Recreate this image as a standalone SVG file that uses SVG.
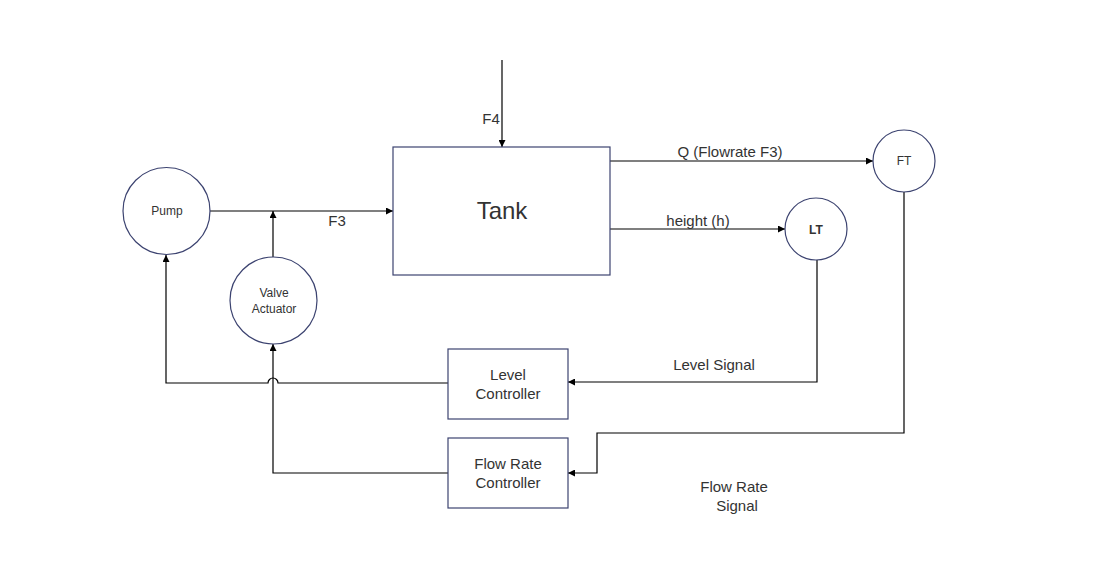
<svg xmlns="http://www.w3.org/2000/svg" width="1111" height="588" viewBox="0 0 1111 588">
<defs>
<marker id="arr" viewBox="0 0 8 8" refX="8" refY="4" markerWidth="7" markerHeight="7" orient="auto" markerUnits="userSpaceOnUse">
<path d="M0,0 L8,4 L0,8 Z" fill="#000"/>
</marker>
<style>
.node{fill:#fff;stroke:#3c4370;stroke-width:1.2}
.line{fill:none;stroke:#000;stroke-width:1.2}
text{font-family:"Liberation Sans",Arial,sans-serif;fill:#333;text-anchor:middle}
.s12{font-size:12px}
.s15{font-size:15px}
</style>
</defs>
<rect width="1111" height="588" fill="#fff"/>
<g id="connectors">
<path class="line" d="M210,211 H393" marker-end="url(#arr)"/>
<path class="line" d="M502,60 V147" marker-end="url(#arr)"/>
<path class="line" d="M273,257 V211" marker-end="url(#arr)"/>
<path class="line" d="M448,383 H278 A5,5 0 0 0 268,383 H166 V255" marker-end="url(#arr)"/>
<path class="line" d="M448,473 H273 V344" marker-end="url(#arr)"/>
<path class="line" d="M610,161 H873" marker-end="url(#arr)"/>
<path class="line" d="M610,229 H785" marker-end="url(#arr)"/>
<path class="line" d="M817,260 V382 H568" marker-end="url(#arr)"/>
<path class="line" d="M904,192 V433 H597 V473 H568" marker-end="url(#arr)"/>
</g>
<g id="labels">
<text class="s15" x="491" y="124">F4</text>
<text class="s15" x="337" y="226">F3</text>
<text class="s15" x="730" y="157">Q (Flowrate F3)</text>
<text class="s15" x="698" y="226">height (h)</text>
<text class="s15" x="714" y="370">Level Signal</text>
<text class="s15" x="734" y="492">Flow Rate</text>
<text class="s15" x="737" y="511">Signal</text>
</g>
<g id="pump"><circle class="node" cx="166.5" cy="211" r="43.5"/><text class="s12" x="167" y="215">Pump</text></g>
<g id="valve"><circle class="node" cx="273.5" cy="300.5" r="43.5"/><text class="s12" x="274" y="297">Valve</text><text class="s12" x="274" y="313">Actuator</text></g>
<g id="tank"><rect class="node" x="393" y="147" width="217" height="128"/><text x="502" y="219" style="font-size:24px">Tank</text></g>
<g id="ft"><circle class="node" cx="904" cy="161" r="31"/><text class="s12" x="904" y="165">FT</text></g>
<g id="lt"><circle class="node" cx="816" cy="229" r="31"/><text class="s12" x="816" y="234" style="font-weight:bold">LT</text></g>
<g id="level-controller"><rect class="node" x="448" y="349" width="120" height="70"/><text class="s15" x="508" y="380">Level</text><text class="s15" x="508" y="399">Controller</text></g>
<g id="flow-controller"><rect class="node" x="448" y="438" width="120" height="70"/><text class="s15" x="508" y="469">Flow Rate</text><text class="s15" x="508" y="488">Controller</text></g>
</svg>
